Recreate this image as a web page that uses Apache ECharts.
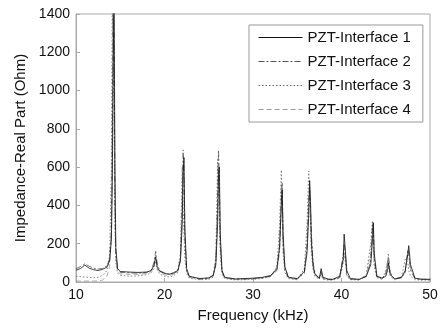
<!DOCTYPE html>
<html>
<head>
<meta charset="utf-8">
<script src="https://cdn.jsdelivr.net/npm/echarts@6/dist/echarts.min.js"></script>
<style>
  html, body { margin: 0; padding: 0; background: #fff; }
  #chart { width: 442px; height: 328px; }
</style>
</head>
<body>
<div id="chart"></div>
<script>
// Frequency samples (kHz), denser around the resonance peaks
const freq = [
  10, 10.5, 11, 11.5, 12, 12.5, 13, 13.5, 13.8, 14.0,
  14.1, 14.2, 14.3, 14.4, 14.5, 14.7, 15, 16, 17, 18,
  18.5, 18.8, 19.0, 19.2, 19.5, 20, 20.5, 21, 21.5, 21.8,
  22.0, 22.1, 22.2, 22.3, 22.5, 22.8, 23, 24, 25, 25.5,
  25.8, 26.0, 26.1, 26.2, 26.3, 26.5, 26.8, 27, 28, 29,
  30, 31, 32, 32.7, 33.0, 33.2, 33.3, 33.4, 33.6, 34,
  35, 35.8, 36.1, 36.3, 36.4, 36.5, 36.6, 36.8, 37, 37.5,
  37.7, 37.9, 38.5, 39, 39.8, 40.2, 40.3, 40.4, 40.6, 41,
  42, 42.8, 43.3, 43.5, 43.6, 43.7, 44, 44.6, 45.0, 45.2,
  45.3, 45.5, 46, 46.8, 47.2, 47.5, 47.6, 47.8, 48.3, 49,
  50
];

// Real part of impedance (Ohm) for each interface
const pzt1 = [
  62, 70, 88, 72, 64, 60, 66, 78, 110, 220,
  520, 1100, 1500, 600, 180, 70, 55, 52, 50, 52,
  60, 85, 130, 75, 55, 45, 40, 48, 60, 110,
  300, 560, 650, 280, 70, 30, 22, 18, 22, 35,
  90, 300, 560, 600, 250, 60, 25, 18, 16, 18,
  20, 24, 34, 70, 180, 400, 480, 250, 80, 25,
  18, 55, 150, 350, 530, 420, 200, 80, 40, 20,
  70, 25, 15, 14, 30, 120, 250, 260, 60, 18,
  14, 30, 90, 220, 310, 150, 30, 20, 30, 60,
  100, 40, 16, 25, 60, 150, 190, 90, 20, 15,
  14
];
const pzt2 = [
  70, 80, 95, 82, 72, 68, 70, 85, 120, 260,
  700, 1450, 1300, 420, 150, 70, 50, 48, 46, 50,
  62, 100, 160, 90, 58, 48, 42, 45, 55, 120,
  380, 690, 600, 240, 65, 28, 20, 16, 20, 32,
  110, 420, 690, 520, 200, 55, 22, 16, 15, 16,
  18, 22, 30, 60, 160, 420, 520, 220, 70, 22,
  16, 45, 180, 420, 480, 380, 250, 100, 45, 18,
  55, 20, 14, 13, 25, 150, 200, 170, 40, 15,
  13, 28, 110, 300, 260, 120, 28, 22, 40, 90,
  145, 50, 15, 22, 50, 170, 150, 60, 18, 14,
  13
];
const pzt3 = [
  30, 28, 26, 24, 22, 25, 35, 60, 140, 600,
  1500, 1500, 900, 300, 100, 45, 35, 30, 32, 38,
  48, 70, 110, 60, 40, 30, 26, 32, 50, 150,
  600, 420, 250, 120, 45, 20, 14, 12, 14, 25,
  130, 640, 500, 350, 150, 40, 18, 12, 11, 12,
  14, 18, 28, 80, 300, 585, 400, 150, 50, 18,
  12, 70, 300, 580, 450, 300, 150, 60, 30, 14,
  40, 15, 10, 10, 20, 100, 150, 120, 30, 12,
  10, 40, 200, 320, 200, 80, 22, 14, 60, 110,
  80, 30, 12, 30, 120, 100, 60, 30, 12, 10,
  10
];
const pzt4 = [
  5, 5, 5, 5, 5, 6, 10, 30, 80, 300,
  900, 1500, 1200, 400, 130, 55, 42, 40, 40, 44,
  55, 80, 140, 70, 48, 38, 34, 40, 55, 130,
  420, 620, 500, 200, 55, 25, 18, 14, 18, 30,
  100, 400, 620, 480, 180, 50, 20, 14, 13, 14,
  16, 20, 30, 65, 200, 500, 450, 180, 60, 20,
  14, 50, 200, 450, 500, 400, 220, 90, 40, 16,
  50, 18, 12, 12, 22, 130, 180, 150, 35, 14,
  12, 32, 150, 280, 250, 110, 25, 16, 45, 100,
  120, 40, 14, 24, 55, 160, 170, 70, 16, 12,
  12
];

const seriesNames = ['PZT-Interface 1', 'PZT-Interface 2', 'PZT-Interface 3', 'PZT-Interface 4'];
const xTicks = [10, 20, 30, 40, 50];
const yTicks = [0, 200, 400, 600, 800, 1000, 1200, 1400];

const font = 'Liberation Sans, Arial, Helvetica, sans-serif';
const pair = vals => freq.map((f, i) => [f, vals[i]]);

const styles = [
  { color: '#111111', type: 'solid', width: 0.8 },
  { color: '#555555', type: [6, 2, 2, 2], width: 0.8 },
  { color: '#666666', type: [1.5, 2], width: 0.8 },
  { color: '#9a9a9a', type: [5, 3], width: 0.8 }
];

const chart = echarts.init(document.getElementById('chart'), null, { renderer: 'canvas' });
chart.setOption({
  backgroundColor: '#ffffff',
  animation: false,
  grid: { left: 76, right: 12, top: 14, bottom: 44, show: true, borderColor: '#aaaaaa', borderWidth: 1 },
  legend: {
    show: true,
    orient: 'vertical',
    left: 249,
    top: 25,
    itemWidth: 44,
    itemHeight: 14,
    itemGap: 9,
    padding: [5, 12, 5, 9],
    borderColor: '#999999',
    borderWidth: 1,
    backgroundColor: '#ffffff',
    itemStyle: { opacity: 0 },
    textStyle: { fontFamily: font, fontSize: 15, color: '#111' },
    data: seriesNames.map((n, k) => ({
      name: n,
      itemStyle: { opacity: 0 },
      lineStyle: { width: 1, color: styles[k].color, type: styles[k].type }
    }))
  },
  xAxis: {
    type: 'value',
    min: xTicks[0],
    max: xTicks[xTicks.length - 1],
    interval: 10,
    name: 'Frequency (kHz)',
    nameLocation: 'middle',
    nameGap: 26,
    nameTextStyle: { fontFamily: font, fontSize: 15, color: '#111' },
    axisLine: { show: true, lineStyle: { color: '#aaaaaa' } },
    axisTick: { show: true, inside: true, length: 4, lineStyle: { color: '#aaaaaa' } },
    axisLabel: { fontFamily: font, fontSize: 14, color: '#111', margin: 6, formatter: v => String(v) },
    splitLine: { show: false }
  },
  yAxis: {
    type: 'value',
    min: yTicks[0],
    max: yTicks[yTicks.length - 1],
    interval: 200,
    name: 'Impedance-Real Part (Ohm)',
    nameLocation: 'middle',
    nameGap: 44,
    nameTextStyle: { fontFamily: font, fontSize: 15, color: '#111' },
    axisLine: { show: true, lineStyle: { color: '#aaaaaa' } },
    axisTick: { show: true, inside: true, length: 4, lineStyle: { color: '#aaaaaa' } },
    axisLabel: { fontFamily: font, fontSize: 14, color: '#111', margin: 6, formatter: v => String(v) },
    splitLine: { show: false }
  },
  series: [pzt1, pzt2, pzt3, pzt4].map((vals, k) => ({
    name: seriesNames[k],
    type: 'line',
    data: pair(vals),
    showSymbol: false,
    symbol: 'none',
    clip: true,
    lineStyle: styles[k],
    itemStyle: { color: styles[k].color },
    z: 10 - k
  }))
});
</script>
</body>
</html>
